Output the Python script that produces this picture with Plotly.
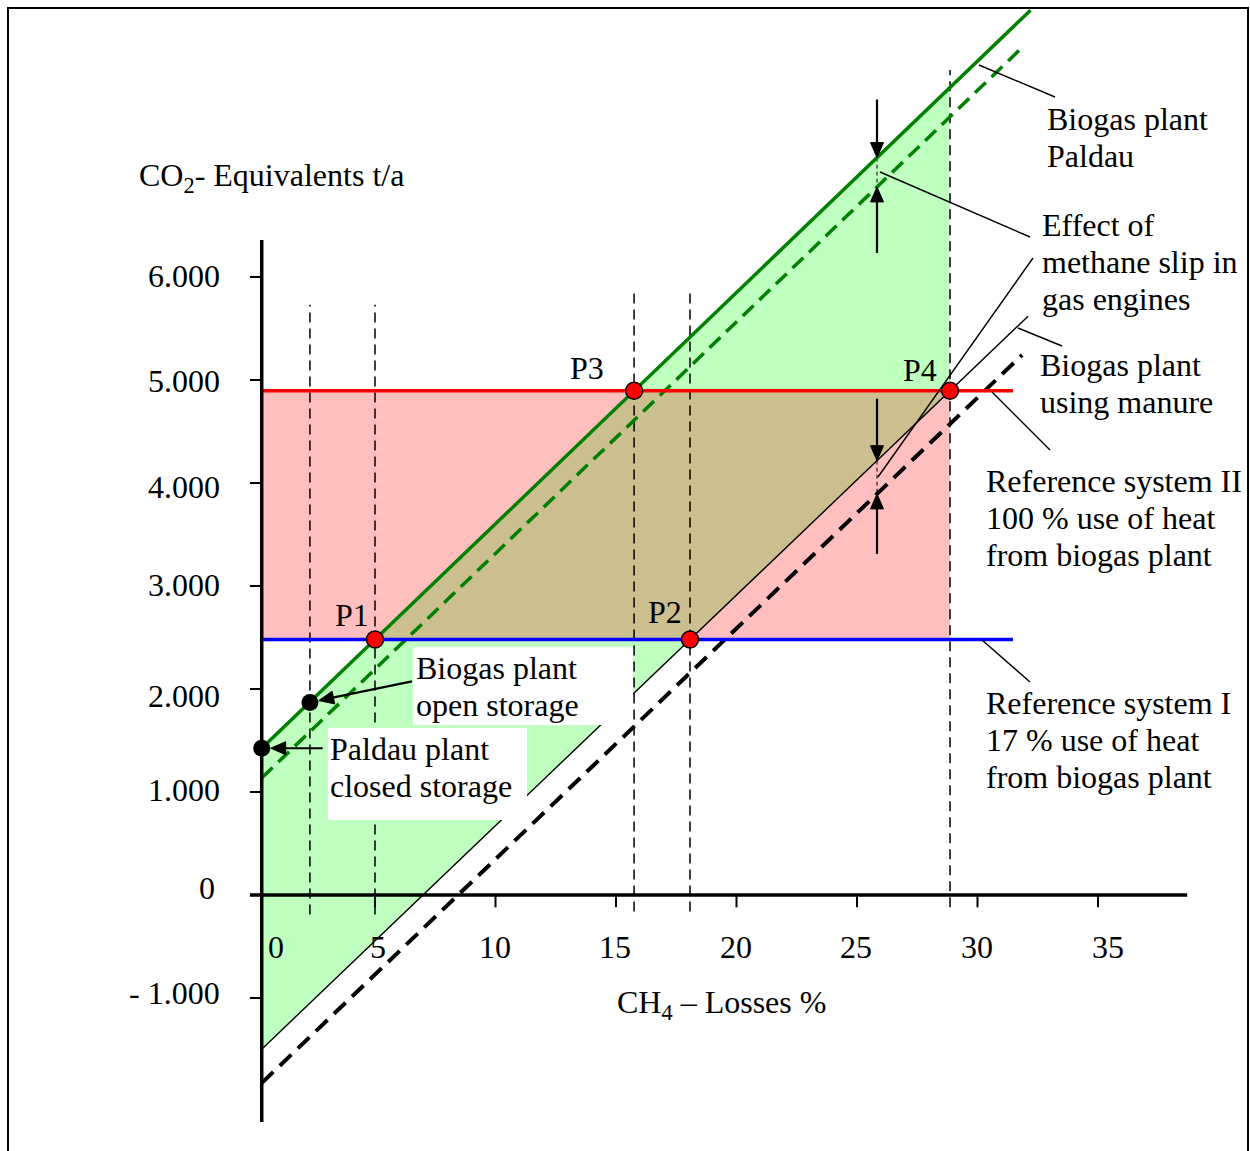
import numpy as np
import plotly.graph_objects as go

# ---- axis ticks -----------------------------------------------------------
x_ticks = [5, 10, 15, 20, 25, 30, 35]
x_tick_labels = ["5", "10", "15", "20", "25", "30", "35"]
y_ticks = [-1000, 1000, 2000, 3000, 4000, 5000, 6000]
y_tick_labels = ["- 1.000", "1.000", "2.000", "3.000", "4.000", "5.000", "6.000"]

# ---- CO2 equivalents (t/a) vs CH4 losses (%) ------------------------------
paldau_x = [0.3, 32.2]            # Biogas plant Paldau
paldau_y = [1425, 8590]
paldau_slip_x = [0.3, 31.95]      # Paldau incl. methane slip in gas engines
paldau_slip_y = [1136, 8250]
manure_x = [0.3, 32.1]            # Biogas plant using manure
manure_y = [-1497, 5620]
manure_slip_x = [0.3, 31.85]      # manure plant incl. methane slip
manure_slip_y = [-1825, 5243]

ref_x = [0.3, 31.47]
ref1_y = 2480                      # Reference system I (17 % heat use)
ref2_y = 4895                      # Reference system II (100 % heat use)

# storage variants of the Paldau plant
storage_x = [0.3, 2.3]             # closed storage, open storage
storage_y = [1425, 1870]

# break-even points P1..P4
p_names = ["P1", "P2", "P3", "P4"]
p_x = [5.0, 18.07, 15.75, 28.86]
p_y = [2480, 2480, 4895, 4895]

# vertical guide lines
guide_x = [2.3, 5.0, 15.75, 18.07, 28.86]
guide_top = [5730, 5730, 5855, 5855, 8010]
guide_bottom = [-190, -190, -160, -160, -120]

effect_x = 25.83                   # where the methane-slip effect is marked

# ---- figure geometry --------------------------------------------------------
W, H = 1250, 1151
X0, PX_PER_X = 254.5, 24.1         # pixel of x=0, pixels per %
Y0, PX_PER_Y = 895.0, 0.103        # pixel of y=0, pixels per t/a
x_range = [(0 - X0) / PX_PER_X, (W - X0) / PX_PER_X]
y_range = [(Y0 - H) / PX_PER_Y, Y0 / PX_PER_Y]

FONT = "Liberation Serif, Times New Roman, serif"
FS = 32
GREEN = "#008000"
LINE_GAP = 37                      # baseline spacing of multi-line labels (px)


def px(xp, yp):
    """pixel position -> paper coordinates"""
    return xp / W, 1 - yp / H


def to_px(x, y):
    return X0 + x * PX_PER_X, Y0 - y * PX_PER_Y


def to_data(xp, yp):
    return (xp - X0) / PX_PER_X, (Y0 - yp) / PX_PER_Y


def line_at(xs, ys, x):
    return float(np.interp(x, xs, ys))


fig = go.Figure()

# ---- shaded regions ---------------------------------------------------------
x_left, x_right = paldau_x[0], p_x[3]
fig.add_trace(go.Scatter(
    x=[x_left, x_right, x_right, x_left, x_left],
    y=[ref1_y, ref1_y, ref2_y, ref2_y, ref1_y],
    fill="toself", fillcolor="#FFBFBF", mode="none", hoverinfo="skip"))
fig.add_trace(go.Scatter(
    x=[x_left, x_right, x_right, x_left, x_left],
    y=[line_at(paldau_x, paldau_y, x_left), line_at(paldau_x, paldau_y, x_right),
       line_at(manure_x, manure_y, x_right), line_at(manure_x, manure_y, x_left),
       line_at(paldau_x, paldau_y, x_left)],
    fill="toself", fillcolor="#BFFFBF", mode="none", hoverinfo="skip"))
fig.add_trace(go.Scatter(
    x=[p_x[0], p_x[1], p_x[3], p_x[2], p_x[0]],
    y=[p_y[0], p_y[1], p_y[3], p_y[2], p_y[0]],
    fill="toself", fillcolor="#CCBF8F", mode="none", hoverinfo="skip"))

# ---- vertical guides --------------------------------------------------------
gx, gy = [], []
for x, t, b in zip(guide_x, guide_top, guide_bottom):
    gx += [x, x, None]
    gy += [b, t, None]
fig.add_trace(go.Scatter(x=gx, y=gy, mode="lines",
                         line=dict(color="black", width=1.5, dash="10px,6px"),
                         hoverinfo="skip"))

# small dashed connectors between the effect arrows
ex, ey = [], []
for (ax_, ay_), (bx_, by_) in [((paldau_x, paldau_y), (paldau_slip_x, paldau_slip_y)),
                               ((manure_x, manure_y), (manure_slip_x, manure_slip_y))]:
    ex += [effect_x, effect_x, None]
    ey += [line_at(ax_, ay_, effect_x), line_at(bx_, by_, effect_x), None]
fig.add_trace(go.Scatter(x=ex, y=ey, mode="lines",
                         line=dict(color="black", width=1, dash="4px,3px"),
                         hoverinfo="skip"))

# ---- emission lines ---------------------------------------------------------
fig.add_trace(go.Scatter(x=manure_x, y=manure_y, mode="lines",
                         line=dict(color="black", width=1.4), hoverinfo="skip"))
fig.add_trace(go.Scatter(x=manure_slip_x, y=manure_slip_y, mode="lines",
                         line=dict(color="black", width=4, dash="16px,9px"),
                         hoverinfo="skip"))
fig.add_trace(go.Scatter(x=paldau_slip_x, y=paldau_slip_y, mode="lines",
                         line=dict(color=GREEN, width=3.5, dash="15px,8px"),
                         hoverinfo="skip"))
fig.add_trace(go.Scatter(x=paldau_x, y=paldau_y, mode="lines",
                         line=dict(color=GREEN, width=3.5), hoverinfo="skip"))

# reference systems
fig.add_trace(go.Scatter(x=ref_x, y=[ref2_y, ref2_y], mode="lines",
                         line=dict(color="#FF0000", width=3.5), hoverinfo="skip"))
fig.add_trace(go.Scatter(x=ref_x, y=[ref1_y, ref1_y], mode="lines",
                         line=dict(color="#0000FF", width=3.5), hoverinfo="skip"))

# ---- axes -------------------------------------------------------------------
y_axis_x = paldau_x[0]
fig.add_trace(go.Scatter(x=[y_axis_x, y_axis_x], y=[-2204, 6359], mode="lines",
                         line=dict(color="black", width=3.5), hoverinfo="skip"))
fig.add_trace(go.Scatter(x=[-0.19, 38.7], y=[0, 0], mode="lines",
                         line=dict(color="black", width=3.5), hoverinfo="skip"))
tx, ty = [], []
for v in x_ticks:
    tx += [v, v, None]
    ty += [0, -120, None]
for v in y_ticks:
    tx += [-0.19, y_axis_x, None]
    ty += [v, v, None]
fig.add_trace(go.Scatter(x=tx, y=ty, mode="lines",
                         line=dict(color="black", width=2), hoverinfo="skip"))

# ---- points -----------------------------------------------------------------
fig.add_trace(go.Scatter(x=storage_x, y=storage_y, mode="markers",
                         marker=dict(size=17, color="black"),
                         cliponaxis=False, hoverinfo="skip"))
fig.add_trace(go.Scatter(x=p_x, y=p_y, mode="markers",
                         marker=dict(size=17, color="#FF0000",
                                     line=dict(color="black", width=1.5)),
                         cliponaxis=False, hoverinfo="skip"))

shapes = []
# white label backgrounds
for (x1, y1, x2, y2) in [(413, 647, 633, 725), (328, 728, 527, 820)]:
    a, b = px(x1, y1)
    c, d = px(x2, y2)
    shapes.append(dict(type="rect", xref="paper", yref="paper", x0=a, y0=d, x1=c, y1=b,
                       fillcolor="white", line=dict(width=0), layer="above"))
# leader lines
for (x1, y1, x2, y2) in [(979, 65, 1055, 97), (880, 172, 1030, 237),
                         (1033, 258, 878, 477), (1018, 328, 1062, 346),
                         (992, 392, 1050, 450), (982, 640, 1030, 682)]:
    a, b = px(x1, y1)
    c, d = px(x2, y2)
    shapes.append(dict(type="line", xref="paper", yref="paper", x0=a, y0=b, x1=c, y1=d,
                       line=dict(color="black", width=1.4), layer="above"))
# frame
a, b = px(8, 8)
c, d = px(1248, 1170)
shapes.append(dict(type="rect", xref="paper", yref="paper", x0=a, y0=d, x1=c, y1=b,
                   line=dict(color="black", width=2), layer="above"))

# ---- arrows (shaft + filled head) ------------------------------------------
HEAD_L, HEAD_W = 15, 13


def arrow(tail_px, tip_px):
    """returns shaft and head polygon (data coords) for an arrow in pixel space"""
    (tx_, ty_), (hx_, hy_) = tail_px, tip_px
    d = np.array([hx_ - tx_, hy_ - ty_], dtype=float)
    d /= np.hypot(*d)
    n = np.array([-d[1], d[0]])
    base = np.array([hx_, hy_]) - HEAD_L * d
    p1 = base + n * HEAD_W / 2
    p2 = base - n * HEAD_W / 2
    shaft = [to_data(tx_, ty_), to_data(*(base + 2 * d))]
    head = [to_data(hx_, hy_), to_data(*p1), to_data(*p2), to_data(hx_, hy_)]
    return shaft, head


arrows = []
# storage labels -> points (stopping at marker edge)
for (sx, sy), (ox, oy) in [((storage_x[1], storage_y[1]), (102, -21)),
                           ((storage_x[0], storage_y[0]), (61, 0))]:
    cx, cy = to_px(sx, sy)
    v = np.array([ox, oy], dtype=float)
    v /= np.hypot(*v)
    arrows.append(((cx + ox, cy + oy), (cx + 9 * v[0], cy + 9 * v[1])))
# methane slip effect arrows
for (xs, ys), off in [((paldau_x, paldau_y), -58), ((paldau_slip_x, paldau_slip_y), 66),
                      ((manure_x, manure_y), -62), ((manure_slip_x, manure_slip_y), 60)]:
    cx, cy = to_px(effect_x, line_at(xs, ys, effect_x))
    arrows.append(((cx, cy + off), (cx, cy)))

sx_, sy_, hx_, hy_ = [], [], [], []
for tail, tip in arrows:
    shaft, head = arrow(tail, tip)
    for p in shaft:
        sx_.append(p[0]); sy_.append(p[1])
    sx_.append(None); sy_.append(None)
    for p in head:
        hx_.append(p[0]); hy_.append(p[1])
    hx_.append(None); hy_.append(None)
fig.add_trace(go.Scatter(x=sx_, y=sy_, mode="lines",
                         line=dict(color="black", width=2.2), hoverinfo="skip"))
fig.add_trace(go.Scatter(x=hx_, y=hy_, mode="lines", fill="toself",
                         fillcolor="black", line=dict(color="black", width=1),
                         hoverinfo="skip"))

# ---- texts ------------------------------------------------------------------
ann = []


def text(lines, xp, yp):
    """left-aligned label; yp is the centre of the first line"""
    for i, t in enumerate(lines):
        a, b = px(xp, yp + i * LINE_GAP)
        ann.append(dict(text=t, x=a, y=b, xref="paper", yref="paper", showarrow=False,
                        xanchor="left", yanchor="middle", align="left",
                        font=dict(family=FONT, size=FS, color="black")))


# tick labels
x_label_y = (Y0 - 947) / PX_PER_Y
for v, lab in zip(x_ticks, x_tick_labels):
    ann.append(dict(text=lab, x=v, y=x_label_y, xref="x", yref="y",
                    showarrow=False, xanchor="center", yanchor="middle",
                    xshift={5: 3, 35: 10}.get(v, -1),
                    font=dict(family=FONT, size=FS, color="black")))
ann.append(dict(text="0", x=0, y=x_label_y, xref="x", yref="y",
                showarrow=False, xanchor="center", yanchor="middle", xshift=21,
                font=dict(family=FONT, size=FS, color="black")))
y_label_x = (222 - X0) / PX_PER_X
y_shift = {-1000: 5, 1000: 2, 2000: -7, 3000: 1, 4000: -4, 5000: -1, 6000: 1}
for v, lab in zip(y_ticks, y_tick_labels):
    ann.append(dict(text=lab, x=y_label_x, y=v, xref="x", yref="y",
                    showarrow=False, xanchor="right", yanchor="middle",
                    yshift=y_shift[v],
                    font=dict(family=FONT, size=FS, color="black")))
ann.append(dict(text="0", x=(217 - X0) / PX_PER_X, y=0, xref="x", yref="y",
                showarrow=False, xanchor="right", yanchor="middle", yshift=7,
                font=dict(family=FONT, size=FS, color="black")))

# axis titles
text(["CO<sub>2</sub>- Equivalents t/a"], 137, 177)
text(["CH<sub>4</sub> – Losses %"], 615, 1004)

# series labels
text(["Biogas plant", "Paldau"], 1045, 119)
text(["Effect of", "methane slip in", "gas engines"], 1040, 225)
text(["Biogas plant", "using manure"], 1038, 365)
text(["Reference system II", "100 % use of heat", "from biogas plant"], 984, 481)
text(["Reference system I", "17 % use of heat", "from biogas plant"], 984, 703)
text(["Biogas plant", "open storage"], 414, 668)
text(["Paldau plant", "closed storage"], 328, 749)

# point labels
for name, x, y, dx, dy in zip(p_names, p_x, p_y, [-23, -25, -47, -30], [25, 28, 23, 21]):
    ann.append(dict(text=name, x=x, y=y, xref="x", yref="y", showarrow=False,
                    xanchor="center", yanchor="middle", xshift=dx, yshift=dy,
                    font=dict(family=FONT, size=FS, color="black")))

fig.update_layout(
    width=W, height=H, margin=dict(l=0, r=0, t=0, b=0),
    paper_bgcolor="white", plot_bgcolor="white", showlegend=False,
    xaxis=dict(range=x_range, visible=False, fixedrange=True),
    yaxis=dict(range=y_range, visible=False, fixedrange=True),
    shapes=shapes, annotations=ann,
)

fig.write_html("out.html")
